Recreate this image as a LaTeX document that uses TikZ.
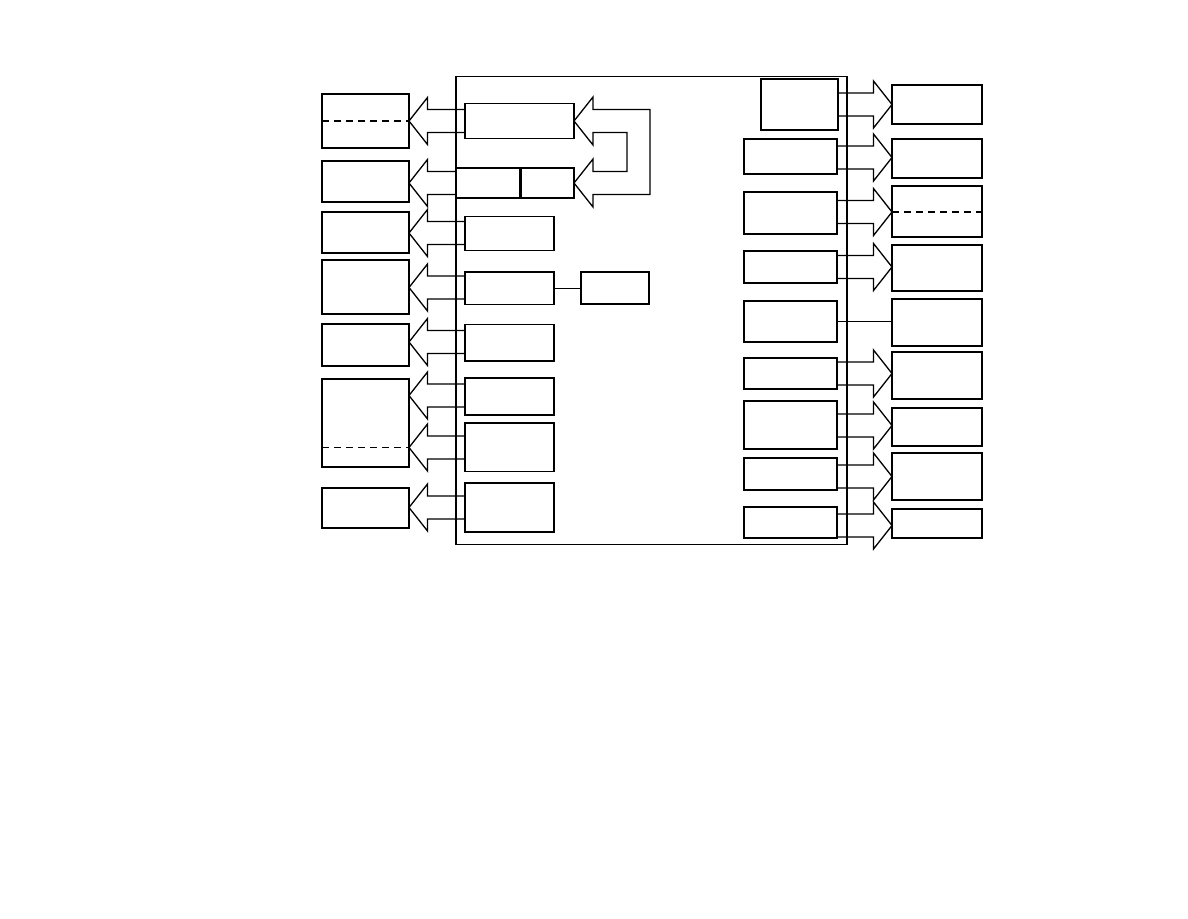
\documentclass[tikz,border=0pt]{standalone}
\usetikzlibrary{calc}
\pgfdeclarelayer{bg}
\pgfsetlayers{bg,main}
\tikzset{
 box/.style={draw, line width=1.5pt, inner sep=0pt, outer sep=0pt, anchor=north west},
 barrow/.style={draw, fill=white, line width=1.3pt, line join=miter},
 mainframe/.style={draw, line width=1.3pt, inner sep=0pt, outer sep=0pt, anchor=north west},
 divline/.style={dash pattern=on 7pt off 5pt, line width=1.5pt},
 link/.style={draw, line width=1.3pt},
}
\newcommand{\bx}[5]{\node[box, minimum width=#4pt, minimum height=#5pt] (#1) at (#2,#3) {};}
\newcommand{\LArr}[3]{%
 \coordinate (t) at (#1.east |- 0,#3);
 \coordinate (s) at (#2.west |- 0,#3);
 \draw[barrow] (t) -- ++(18.5,-23.5) -- ++(0,12) -- ($(s)+(0,-11.5)$) -- ($(s)+(0,11.5)$) -- ($(t)+(18.5,11.5)$) -- ++(0,12) -- cycle;}
\newcommand{\RArr}[3]{%
 \coordinate (t) at (#2.west |- 0,#3);
 \coordinate (s) at (#1.east |- 0,#3);
 \draw[barrow] (t) -- ++(-18.5,-23.5) -- ++(0,12) -- ($(s)+(0,-11.5)$) -- ($(s)+(0,11.5)$) -- ($(t)+(-18.5,11.5)$) -- ++(0,12) -- cycle;}
\begin{document}
\begin{tikzpicture}[x=1pt, y=-1pt]
\useasboundingbox (0,0) rectangle (1188,918);
% main frame
\node[mainframe, minimum width=391pt, minimum height=468pt] (frm) at (456,76.5) {};
% left outer boxes
\bx{L1}{322}{94}{87}{54}
\bx{L2}{322}{161}{87}{41}
\bx{L3}{322}{212}{87}{41}
\bx{L4}{322}{260}{87}{54}
\bx{L5}{322}{324}{87}{42}
\bx{L6}{322}{379}{87}{88}
\bx{L7}{322}{488}{87}{40}
% left inner boxes
\bx{A}{465}{103.5}{109}{35}
\bx{B}{456}{168}{118}{30}
\bx{C}{465}{216.5}{89}{34}
\bx{D}{465}{272}{89}{32.5}
\bx{E}{581}{272}{68}{32}
\bx{F}{465}{324.5}{89}{36.5}
\bx{G}{465}{378}{89}{37}
\bx{H}{465}{423}{89}{48.5}
\bx{I}{465}{483}{89}{49}
% right inner boxes
\bx{R1}{761}{79}{77}{51}
\bx{R2}{744}{139}{93}{35}
\bx{R3}{744}{192}{93}{42}
\bx{R4}{744}{251}{93}{32}
\bx{R5}{744}{301}{93}{41}
\bx{R6}{744}{358}{93}{31}
\bx{R7}{744}{401}{93}{48}
\bx{R8}{744}{458}{93}{32}
\bx{R9}{744}{507}{93}{31}
% right outer boxes
\bx{O1}{892}{85}{90}{39}
\bx{O2}{892}{139}{90}{39}
\bx{O3}{892}{186}{90}{51}
\bx{O4}{892}{245}{90}{46}
\bx{O5}{892}{299}{90}{47}
\bx{O6}{892}{352}{90}{47}
\bx{O7}{892}{408}{90}{38}
\bx{O8}{892}{453}{90}{47}
\bx{O9}{892}{509}{90}{29}
% divider in B and dashed lines
\draw[line width=3pt] ($(B.north west)+(64,0)$) -- ($(B.south west)+(64,0)$);
\draw[divline] (L1.west |- 0,121) -- (L1.east |- 0,121);
\draw[divline] (L6.west |- 0,447.5) -- (L6.east |- 0,447.5);
\draw[divline] (O3.west |- 0,212) -- (O3.east |- 0,212);
% plain links
\draw[link] (D.east) -- (E.west |- D.east);
\draw[link] (R5.east) -- (O5.west |- R5.east);
\begin{pgfonlayer}{bg}
\LArr{L1}{A}{121}
\LArr{L2}{B}{183}
\LArr{L3}{C}{233}
\LArr{L4}{D}{287.5}
\LArr{L5}{F}{342}
\LArr{L6}{G}{395.5}
\LArr{L6}{H}{447.5}
\LArr{L7}{I}{507.5}
\RArr{R1}{O1}{104.5}
\RArr{R2}{O2}{157.5}
\RArr{R3}{O3}{212}
\RArr{R4}{O4}{267}
\RArr{R6}{O6}{373.5}
\RArr{R7}{O7}{425.5}
\RArr{R8}{O8}{476.5}
\RArr{R9}{O9}{525.5}
% twin return arrow into A and B
\coordinate (ta) at (A.east |- 0,121);
\coordinate (tb) at (B.east |- 0,183);
\draw[barrow] (ta) -- ++(19,-24) -- ++(0,12.5) -- ($(ta)+(76,-11.5)$) -- ($(tb)+(76,11.5)$) -- ($(tb)+(19,11.5)$) -- ++(0,12.5) -- (tb) -- ++(19,-24) -- ++(0,12.5) -- ($(tb)+(53,-11.5)$) -- ($(ta)+(53,11.5)$) -- ($(ta)+(19,11.5)$) -- ++(0,12.5) -- cycle;
\end{pgfonlayer}
\end{tikzpicture}
\end{document}
